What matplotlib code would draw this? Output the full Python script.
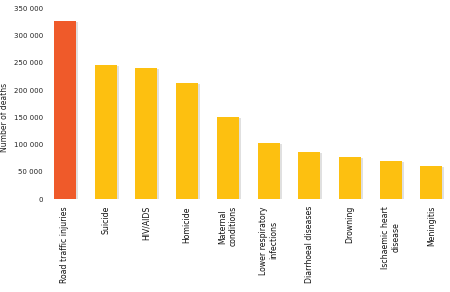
import matplotlib.pyplot as plt
from matplotlib.ticker import FuncFormatter

causes = [
    "Road traffic injuries",
    "Suicide",
    "HIV/AIDS",
    "Homicide",
    "Maternal\nconditions",
    "Lower respiratory\ninfections",
    "Diarrhoeal diseases",
    "Drowning",
    "Ischaemic heart\ndisease",
    "Meningitis",
]
deaths = [327000, 247000, 241000, 214000, 151000, 103500, 87000, 78000, 70500, 61000]
bar_colors = ["#EF5A2A"] + ["#FDC010"] * 9
y_ticks = [0, 50000, 100000, 150000, 200000, 250000, 300000, 350000]

fig = plt.figure(figsize=(4.5, 2.92), dpi=100)
ax = fig.add_axes([0.108, 0.318, 0.887, 0.653])

x = list(range(len(causes)))
# soft drop shadow behind each bar
ax.bar([i + 0.05 for i in x], [d - 2500 for d in deaths], width=0.54,
       color="#9a9a9a", alpha=0.3, zorder=1, linewidth=0)
ax.bar(x, deaths, width=0.54, color=bar_colors, zorder=2, linewidth=0)

ax.set_xlim(-0.4, len(causes) - 0.6)
ax.set_ylim(0, 350000)
ax.set_yticks(y_ticks)
ax.yaxis.set_major_formatter(FuncFormatter(lambda v, _: f"{int(v):,}".replace(",", " ")))
ax.set_xticks(x)
ax.set_xticklabels(causes, rotation=90, fontsize=5.6, ha="center", va="top",
                   multialignment="center")
ax.tick_params(axis="y", labelsize=5, length=0, pad=4, colors="#222222")
ax.tick_params(axis="x", length=0, pad=5, colors="#111111")
ax.set_ylabel("Number of deaths", fontsize=5.5, color="#222222")
ax.yaxis.set_label_coords(-0.1, 0.43)

for side in ax.spines.values():
    side.set_visible(False)

fig.savefig("out.png", dpi=100, facecolor="white")
